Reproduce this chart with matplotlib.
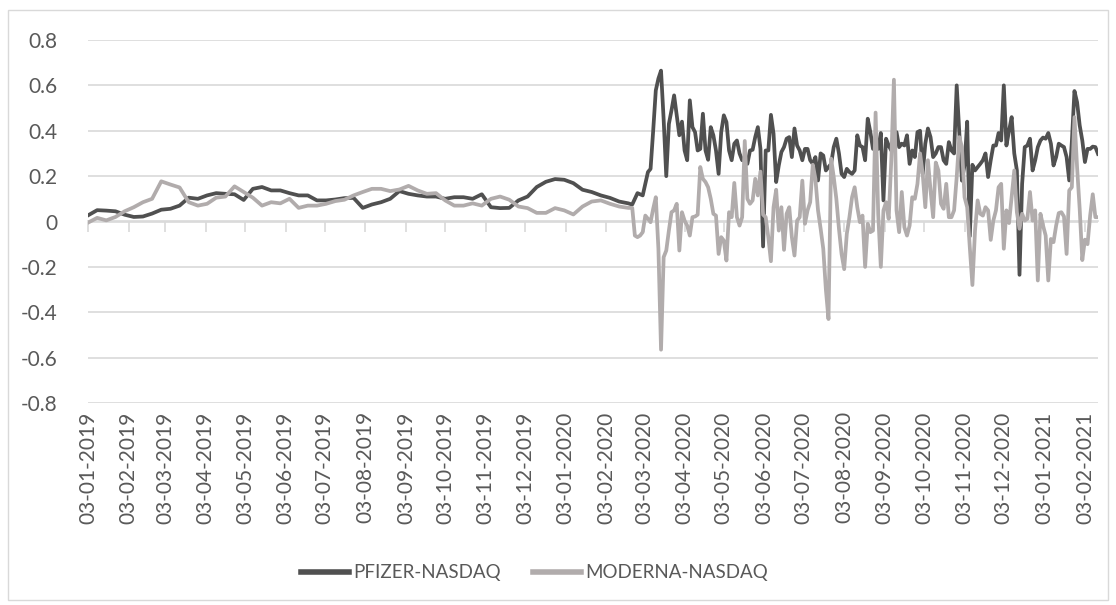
import matplotlib
matplotlib.use("Agg")
import matplotlib.pyplot as plt
from matplotlib.patches import Rectangle
import pandas as pd

# weekly readings, 03-01-2019 .. 20-02-2020
pfizer_calm = [0.027, 0.05, 0.048, 0.045, 0.03, 0.02, 0.022, 0.035, 0.052, 0.056,
               0.07, 0.105, 0.1, 0.115, 0.125, 0.122, 0.12, 0.095, 0.144, 0.152,
               0.137, 0.137, 0.125, 0.115, 0.115, 0.093, 0.093, 0.097, 0.103, 0.104,
               0.06, 0.075, 0.085, 0.1, 0.134, 0.122, 0.115, 0.11, 0.11, 0.1,
               0.107, 0.107, 0.1, 0.12, 0.063, 0.059, 0.06, 0.093, 0.11, 0.152,
               0.175, 0.187, 0.184, 0.169, 0.14, 0.13, 0.115, 0.104, 0.088, 0.08]
moderna_calm = [-0.005, 0.016, 0.005, 0.02, 0.045, 0.063, 0.085, 0.1, 0.177, 0.163,
                0.15, 0.085, 0.07, 0.078, 0.105, 0.11, 0.155, 0.13, 0.105, 0.07,
                0.085, 0.08, 0.1, 0.06, 0.07, 0.07, 0.078, 0.09, 0.096, 0.115,
                0.13, 0.144, 0.144, 0.134, 0.141, 0.157, 0.137, 0.122, 0.125, 0.093,
                0.07, 0.07, 0.08, 0.07, 0.1, 0.11, 0.096, 0.066, 0.059, 0.038,
                0.038, 0.059, 0.049, 0.031, 0.066, 0.088, 0.093, 0.078, 0.066, 0.06]

# readings every 2 days from 21-02-2020
pfizer_vol = [0.078, 0.075, 0.1, 0.125, 0.12, 0.115, 0.166, 0.218, 0.232, 0.4,
              0.578, 0.63, 0.665, 0.45, 0.2, 0.43, 0.49, 0.556, 0.468, 0.38,
              0.44, 0.313, 0.27, 0.534, 0.416, 0.394, 0.313, 0.32, 0.475, 0.313,
              0.272, 0.416, 0.38, 0.313, 0.21, 0.394, 0.468, 0.438, 0.313, 0.27,
              0.343, 0.357, 0.3, 0.27, 0.284, 0.254, 0.313, 0.316, 0.372, 0.416,
              0.32, -0.11, 0.313, 0.313, 0.47, 0.387, 0.174, 0.247, 0.306, 0.328,
              0.365, 0.372, 0.284, 0.41, 0.335, 0.313, 0.27, 0.32, 0.32, 0.27,
              0.254, 0.284, 0.181, 0.3, 0.291, 0.225, 0.24, 0.254, 0.328, 0.365,
              0.3, 0.21, 0.196, 0.232, 0.218, 0.21, 0.225, 0.38, 0.335, 0.328,
              0.27, 0.453, 0.394, 0.32, 0.328, 0.32, 0.39, 0.093, 0.365, 0.335,
              0.313, 0.343, 0.394, 0.328, 0.343, 0.335, 0.38, 0.254, 0.313, 0.284,
              0.394, 0.4, 0.21, 0.343, 0.41, 0.372, 0.284, 0.3, 0.328, 0.328,
              0.27, 0.254, 0.35, 0.313, 0.3, 0.6, 0.387, 0.18, 0.25, 0.44,
              -0.065, 0.25, 0.225, 0.24, 0.254, 0.27, 0.3, 0.196, 0.27, 0.335,
              0.335, 0.39, 0.357, 0.6, 0.335, 0.4, 0.46, 0.3, 0.225, -0.235,
              0.166, 0.328, 0.335, 0.365, 0.225, 0.27, 0.328, 0.357, 0.37, 0.365,
              0.39, 0.343, 0.247, 0.284, 0.343, 0.335, 0.328, 0.284, 0.181, 0.35,
              0.575, 0.526, 0.424, 0.357, 0.262, 0.32, 0.32, 0.33, 0.328, 0.298]
moderna_vol = [0.06, 0.06, -0.062, -0.069, -0.062, -0.047, 0.026, 0.012, -0.003, 0.056,
               0.107, -0.12, -0.565, -0.157, -0.128, -0.04, 0.041, 0.049, 0.078, -0.128,
               0.041, 0.004, -0.018, -0.062, 0.019, 0.022, 0.03, 0.24, 0.188, 0.174,
               0.151, 0.1, 0.034, 0.026, -0.143, -0.069, -0.084, -0.172, 0.041, 0.019,
               0.17, 0.019, -0.018, 0.019, 0.355, 0.1, 0.078, 0.093, 0.188, 0.115,
               0.22, 0.03, 0.019, -0.069, -0.175, 0.063, 0.14, -0.04, 0.063, -0.125,
               0.034, 0.063, -0.069, -0.15, 0.004, 0.019, 0.18, -0.01, 0.049, 0.085,
               0.25, 0.188, 0.049, -0.032, -0.12, -0.3, -0.43, 0.277, 0.196, 0.1,
               -0.032, -0.143, -0.21, -0.054, 0.019, 0.107, 0.151, 0.063, -0.003, 0.026,
               -0.2, -0.01, -0.047, -0.04, 0.48, 0.034, -0.2, 0.049, 0.085, 0.012,
               0.27, 0.625, 0.049, -0.047, 0.13, -0.025, -0.062, -0.018, 0.107, 0.1,
               0.166, 0.3, 0.21, 0.063, 0.27, 0.137, 0.019, 0.26, 0.225, 0.078,
               0.056, 0.166, 0.019, 0.019, 0.049, 0.196, 0.372, 0.328, 0.107, 0.063,
               -0.113, -0.28, -0.04, 0.093, 0.034, 0.026, 0.063, 0.049, -0.081, 0.004,
               0.049, 0.151, 0.166, -0.12, 0.049, -0.007, 0.107, 0.225, 0.041, -0.032,
               0.034, 0.004, 0.012, 0.13, 0.004, 0.049, -0.26, 0.034, -0.018, -0.062,
               -0.26, -0.077, -0.091, -0.018, 0.037, 0.041, 0.022, -0.143, 0.137, 0.151,
               0.46, 0.24, 0.056, -0.17, -0.08, -0.1, 0.026, 0.12, 0.019, 0.019]

dates_calm = pd.date_range("2019-01-03", periods=len(pfizer_calm), freq="7D")
dates_vol = pd.date_range("2020-02-21", periods=len(pfizer_vol), freq="2D")
dates = dates_calm.append(dates_vol)
pfizer = pfizer_calm + pfizer_vol
moderna = moderna_calm + moderna_vol

tick_dates = [pd.Timestamp(2019 + m // 12, m % 12 + 1, 3) for m in range(26)]
tick_labels = [d.strftime("%d-%m-%Y") for d in tick_dates]
y_ticks = [-0.8, -0.6, -0.4, -0.2, 0, 0.2, 0.4, 0.6, 0.8]
y_labels = ["-0.8", "-0.6", "-0.4", "-0.2", "0", "0.2", "0.4", "0.6", "0.8"]

plt.rcParams["font.family"] = ["Lato", "DejaVu Sans"]
txt = "#595959"
grid = "#d9d9d9"

fig = plt.figure(figsize=(11.16, 6.05), dpi=100)
ax = fig.add_axes([88 / 1116, 1 - 403 / 605, (1098 - 88) / 1116, (403 - 40) / 605])

ax.plot(dates, pfizer, color="#505050", lw=2.7, label="PFIZER-NASDAQ")
ax.plot(dates, moderna, color="#b1acac", lw=2.7, label="MODERNA-NASDAQ")

ax.set_ylim(-0.8, 0.8)
ax.set_xlim(dates[0], dates[-1])
ax.set_yticks(y_ticks)
ax.set_yticklabels(y_labels)
ax.yaxis.grid(True, color=grid, lw=1.2)
ax.set_axisbelow(True)
for s in ax.spines.values():
    s.set_visible(False)
ax.tick_params(axis="y", length=0, pad=22, labelsize=15, labelcolor=txt)

ax.set_xticks(tick_dates)
ax.set_xticklabels(tick_labels, rotation=90)
ax.tick_params(axis="x", length=0, pad=6, labelsize=15, labelcolor=txt)

# horizontal axis line with tick marks at zero
sec = ax.secondary_xaxis(0.5)
sec.set_xticks(tick_dates)
sec.xaxis.set_ticks_position("bottom")
sec.tick_params(axis="x", length=7, width=1.2, color=grid, direction="out",
                labelbottom=False, labeltop=False)
for s in sec.spines.values():
    s.set_color(grid)
    s.set_linewidth(1.2)

leg = fig.legend(loc="center", bbox_to_anchor=(0.479, 0.053), ncol=2, frameon=False,
                 fontsize=13.5, handlelength=2.55, handletextpad=0.2, columnspacing=1.75,
                 labelcolor=txt)
for line in leg.get_lines():
    line.set_linewidth(4)

fig.add_artist(Rectangle((8 / 1116, 1 - 600 / 605), 1100 / 1116, 590 / 605,
                         transform=fig.transFigure, fill=False, ec=grid, lw=1))

fig.savefig("out.png", dpi=100)
